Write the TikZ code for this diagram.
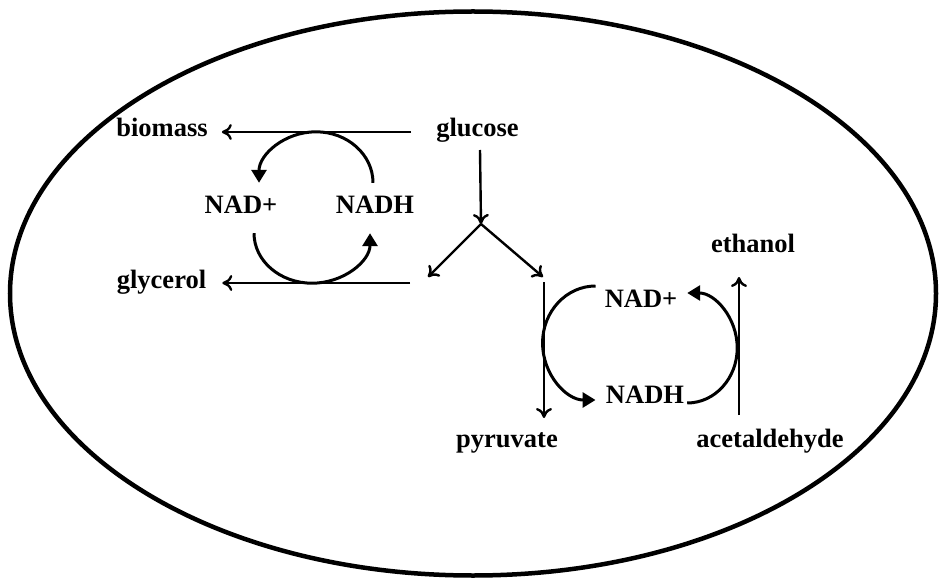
\documentclass[tikz,border=0pt]{standalone}
\usepackage{fontspec}
\setmainfont{Liberation Serif}
\usetikzlibrary{arrows.meta}
\begin{document}
\begin{tikzpicture}[x=1pt,y=-1pt,
  lbl/.style={anchor=base,inner sep=0pt,text height=14pt,text depth=4pt,
    font=\bfseries\fontsize{26.5}{30}\selectfont},
  thinarrow/.style={line width=2.4pt,-{To[length=10pt,width=16pt]}},
  curvearrow/.style={line width=3pt,-{Triangle[length=13pt,width=15pt]}},
  cell/.style={line width=4.5pt}]
\useasboundingbox (0,0) rectangle (940,580);
\draw[cell] (473,293.5) ellipse [x radius=463, y radius=282];

\node[lbl] (biomass) at (162,137) {biomass};
\node[lbl] (glucose) at (477.5,137) {glucose};
\node[lbl] (nadL) at (241,214) {NAD+};
\node[lbl] (nadhL) at (375,214) {NADH};
\node[lbl] (glycerol) at (161.5,288) {glycerol};
\node[lbl] (ethanol) at (753,253) {ethanol};
\node[lbl] (nadR) at (641,307) {NAD+};
\node[lbl] (nadhR) at (645,403) {NADH};
\node[lbl] (pyruvate) at (507,447) {pyruvate};
\node[lbl] (acet) at (770,447) {acetaldehyde};

\coordinate (gtop) at (480,150);
\coordinate (split) at (481,224);
\coordinate (sl) at (428,277);
\coordinate (sr) at (543,277);
\coordinate (gl0) at (410,283);
\coordinate (pv1) at (544,282);
\coordinate (pv2) at (544,418);
\coordinate (ac1) at (739,415);
\coordinate (ac2) at (739,277);

% straight reactions
\draw[thinarrow] ([xshift=-25pt]glucose.west) -- ([xshift=14pt]biomass.east);
\draw[thinarrow] (gl0) -- ([xshift=16pt]glycerol.east);
\draw[thinarrow] (gtop) -- (split);
\draw[thinarrow] (split) -- (sl);
\draw[thinarrow] (split) -- (sr);
\draw[thinarrow] (pv1) -- (pv2);
\draw[thinarrow] (ac1) -- (ac2);

% cofactor cycles
\draw[curvearrow] ([xshift=-2pt,yshift=17pt]nadhL.north)
  arc[start angle=0,end angle=-180,x radius=57,y radius=51];
\draw[curvearrow] ([xshift=13pt,yshift=-15pt]nadL.south)
  arc[start angle=-180,end angle=-360,x radius=58,y radius=50];
\draw[curvearrow] ([xshift=-9pt,yshift=16pt]nadR.west)
  arc[start angle=-90,end angle=-270,x radius=53,y radius=57];
\draw[curvearrow] ([xshift=3pt,yshift=-5pt]nadhR.east)
  arc[start angle=90,end angle=-90,x radius=50,y radius=55];
\end{tikzpicture}
\end{document}
